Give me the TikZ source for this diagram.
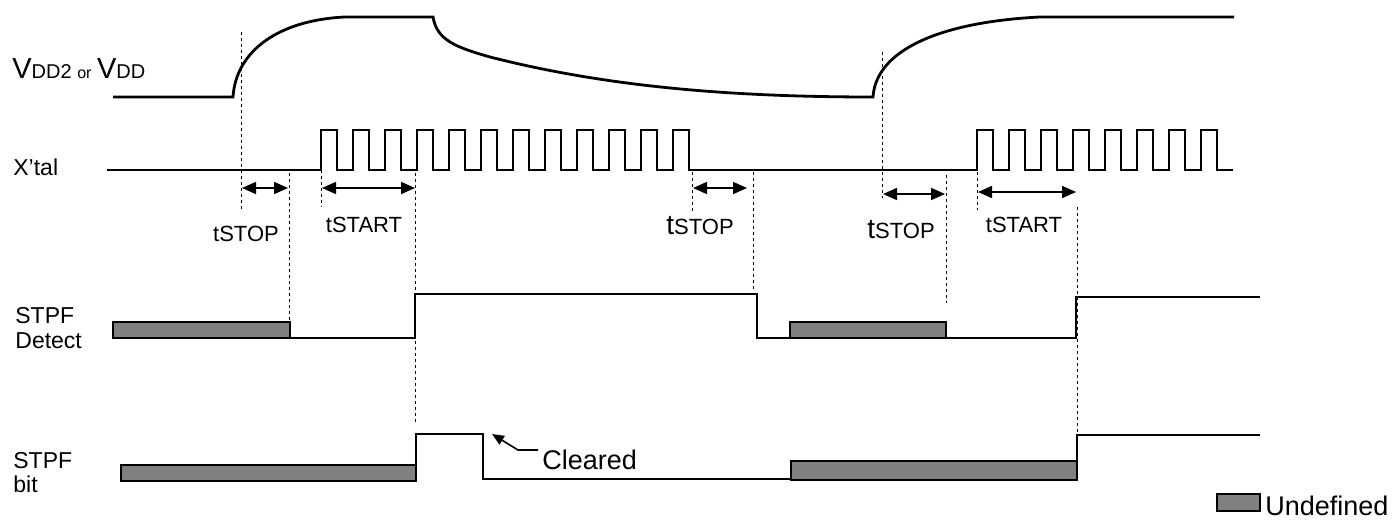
\documentclass[tikz,border=0pt]{standalone}
\usepackage{fontspec}
\setmainfont{Liberation Sans}
\usetikzlibrary{arrows.meta}
\newcommand\lblfont{\fontsize{11.5}{13}\selectfont}
\newcommand\tfont{\fontsize{11}{13}\selectfont}
\tikzset{
  wave/.style={line width=1.4pt},
  guide/.style={line width=0.5pt,dash pattern=on 1.5pt off 1.5pt},
  undef/.style={draw,fill=gray,line width=1.4pt},
  span/.style={{Triangle[length=7pt,width=6pt]}-{Triangle[length=7pt,width=6pt]},line width=0.8pt},
  ptr/.style={-{Triangle[length=6pt,width=5pt]},line width=0.8pt},
  lbl/.style={inner sep=0pt,anchor=base west,font=\lblfont},
  tlbl/.style={inner sep=0pt,anchor=base,font=\tfont}
}
\begin{document}
\begin{tikzpicture}[x=0.5pt,y=-0.5pt]
\useasboundingbox (0,0) rectangle (1395,520);
% signal names
\node[lbl] (vdd) at (12,78) {\fontsize{14.5}{16}\selectfont V{\fontsize{10}{11}\selectfont DD2 {\fontsize{8}{10}\selectfont or} }V{\fontsize{10}{11}\selectfont DD}};
\node[lbl] (xtal) at (13,175) {X’tal};
\node[lbl] (detA) at (15,323) {STPF};
\node[lbl] (detB) at (15,348) {Detect};
\node[lbl] (bitA) at (13,468) {STPF};
\node[lbl] (bitB) at (13,492) {bit};
% supply
\draw[wave] (113,97) -- (233,97) .. controls (236,50) and (280,20) .. (345,17) -- (433,17)
  .. controls (437,40) and (455,47) .. (490,57) .. controls (600,85) and (720,97) .. (873,97)
  .. controls (876,50) and (940,22) .. (1040,17) -- (1234,17);
% oscillator
\draw[wave] (107,170) -- (321,170)
  \foreach \i in {1,...,12}{ -- ++(0,-40) -- ++(16,0) -- ++(0,40) -- ++(16,0) }
  -- (977,170)
  \foreach \i in {1,...,8}{ -- ++(0,-40) -- ++(16,0) -- ++(0,40) -- ++(16,0) };
% guides
\foreach \x/\a/\b in {241/32/212,289/173/322,321/170/207,415/173/422,692/172/212,
  753/172/290,882/52/198,946/175/303,977/172/210,1077/207/435}
  \draw[guide] (\x,\a) -- (\x,\b);
% timings
\draw[span] (242,188) -- (288,188);
\draw[span] (322,188) -- (415,188);
\draw[span] (693,188) -- (747,188);
\draw[span] (883,194) -- (945,194);
\draw[span] (978,192) -- (1076,192);
\node[tlbl] (stopA) at (246,241) {tSTOP};
\node[tlbl] (startA) at (364,232) {tSTART};
\node[lbl,font=\tfont] (stopB) at (666,234) {{\fontsize{14}{16}\selectfont t}STOP};
\node[lbl,font=\tfont] (stopC) at (867,238) {{\fontsize{14}{16}\selectfont t}STOP};
\node[tlbl] (startB) at (1024,232) {tSTART};
% STPF detect
\draw[undef] (113,322) rectangle (290,338);
\draw[undef] (790,322) rectangle (946,338);
\draw[wave] (290,338) -- (415,338) -- (415,294) -- (757,294) -- (757,338) -- (790,338);
\draw[wave] (946,338) -- (1076,338) -- (1076,297) -- (1260,297);
% STPF bit
\draw[undef] (121,465) rectangle (416,481);
\draw[undef] (791,461) rectangle (1077,480);
\draw[wave] (416,465) -- (416,434) -- (483,434) -- (483,479) -- (791,479);
\draw[wave] (1077,461) -- (1077,435) -- (1260,435);
\node[lbl,font=\fontsize{13.5}{15}\selectfont] (cleared) at (542,469) {Cleared};
\coordinate (clrA) at (538,450);
\coordinate (clrB) at (518,450);
\coordinate (clr) at (492,434);
\draw[ptr] (clrA) -- (clrB) -- (clr);
% legend
\draw[undef] (1217,494) rectangle (1260,511);
\node[lbl,font=\fontsize{13.5}{15}\selectfont] (undefined) at (1265,515) {Undefined};
\end{tikzpicture}
\end{document}
